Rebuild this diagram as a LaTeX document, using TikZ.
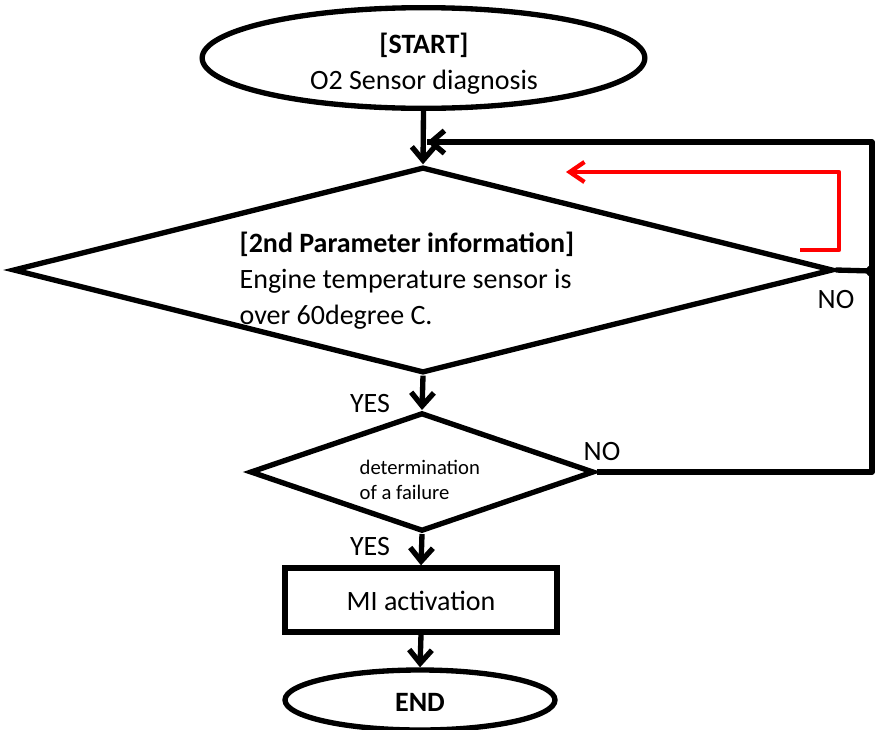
\documentclass[tikz,border=0pt]{standalone}
\usepackage{fontspec}
\setmainfont{Carlito}
\usetikzlibrary{shapes.geometric,arrows.meta}
\begin{document}
\begin{tikzpicture}[x=0.75pt,y=-0.75pt,
  line width=4pt,
  bigfont/.style={font=\fontsize{21}{27}\selectfont},
  smallfont/.style={font=\fontsize{15.5}{19}\selectfont},
  flow/.style={-{Straight Barb[length=10pt,width=17pt]}},
  redflow/.style={red,line width=3.2pt,line join=round,-{Straight Barb[length=11pt,width=15pt]}},
  term/.style={ellipse,draw,inner sep=0pt},
  dec/.style={diamond,draw,inner sep=0pt},
  proc/.style={rectangle,draw,inner sep=0pt},
  txt/.style={inner sep=0pt,bigfont},
]
\useasboundingbox (0,0) rectangle (875,729);
% shapes
\node[term,minimum width=332pt,minimum height=75.5pt] (start) at (423.5,58) {};
\node[dec,minimum width=615pt,minimum height=154.5pt] (d1) at (423,270) {};
\node[dec,minimum width=258pt,minimum height=89pt] (d2) at (422,472) {};
\node[proc,minimum width=204pt,minimum height=48pt] (mi) at (421,600) {};
\node[term,minimum width=202.5pt,minimum height=45pt] (end) at (420,700) {};
% texts
\node[txt,align=center] (tstart) at (424,64) {\textbf{[START]}\\O2 Sensor diagnosis};
\node[txt,align=left,anchor=west] (t1) at (237,281) {\textbf{[2nd Parameter information]}\\Engine temperature sensor is\\over 60degree C.};
\node[inner sep=0pt,smallfont,align=left,anchor=west] (t2) at (357,480) {determination\\of a failure};
\node[txt] (tmi) at (421,601) {MI activation};
\node[txt] (tend) at (420,702) {\textbf{END}};
\node[txt] (no1) at (836,300) {NO};
\node[txt] (no2) at (602,452) {NO};
\node[txt] (yes1) at (370,404) {YES};
\node[txt] (yes2) at (370,547) {YES};
% connectors
\coordinate (dot) at (872,271);
\coordinate (rb) at (872,472);
\coordinate (rt) at (872,142);
\coordinate (j) at (427,142);
\draw[flow] (start.south) -- (d1.north);
\draw[flow] (d1.south) -- (d2.north);
\draw[flow] (d2.south) -- (mi.north);
\draw[flow] (mi.south) -- (end.north);
\draw (d1.east) -- (dot);
\draw[line join=round] (d2.east) -- (rb) -- (rt) -- (j);
\draw[flow] (rt) -- (j);
\fill (dot) circle (4.5pt);
% red arrow
\coordinate (r0) at (800,250);
\coordinate (r1) at (839,250);
\coordinate (r2) at (839,172);
\coordinate (r3) at (566,172);
\draw[redflow] (r0) -- (r1) -- (r2) -- (r3);
\end{tikzpicture}
\end{document}
